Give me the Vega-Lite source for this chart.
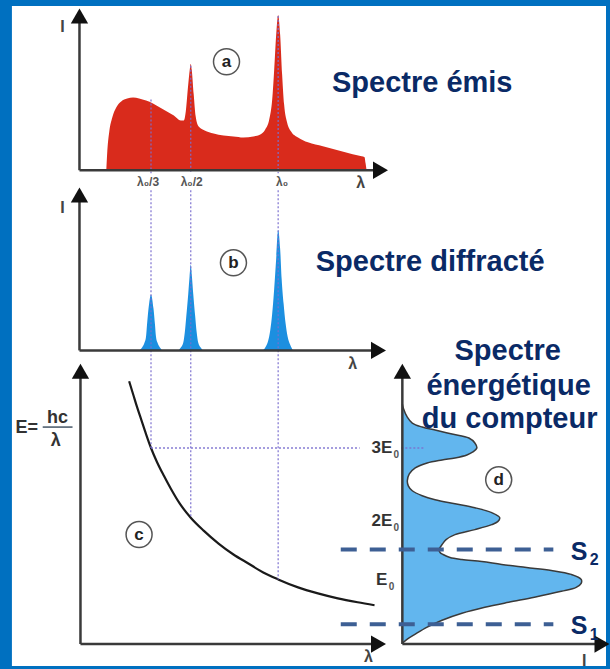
{
  "$schema": "https://vega.github.io/schema/vega-lite/v6.json",
  "width": 610,
  "height": 669,
  "autosize": {"type": "fit", "contains": "padding"},
  "padding": 0,
  "background": "#0070c0",
  "config": {"view": {"stroke": null}, "axis": {"disable": true}, "legend": {"disable": true}},
  "datasets": {
    "bg": [{"x": 12, "x2": 610, "y": 6, "y2": 669}],
    "red": [
      {"x":107,"y":171},{"x":108,"y":152},{"x":110,"y":132},{"x":113,"y":118},{"x":117,"y":108},{"x":122,"y":102},{"x":128,"y":99},{"x":134,"y":98},{"x":140,"y":99},{"x":147,"y":101},{"x":154,"y":104},{"x":161,"y":108},{"x":168,"y":112},{"x":175,"y":116},{"x":182,"y":121},{"x":185,"y":121},{"x":187,"y":112},{"x":189,"y":90},{"x":191,"y":70},{"x":192,"y":64},{"x":193,"y":70},{"x":195,"y":95},{"x":197,"y":117},{"x":200,"y":127},{"x":206,"y":131},{"x":215,"y":134},{"x":225,"y":136},{"x":235,"y":137},{"x":245,"y":138},{"x":255,"y":137},{"x":262,"y":135},{"x":267,"y":130},{"x":271,"y":120},{"x":274,"y":100},{"x":276,"y":70},{"x":278,"y":35},{"x":280,"y":15},{"x":282,"y":35},{"x":284,"y":75},{"x":286,"y":105},{"x":289,"y":123},{"x":293,"y":132},{"x":300,"y":138},{"x":310,"y":143},{"x":325,"y":147},{"x":340,"y":151},{"x":355,"y":155},{"x":364,"y":157},{"x":367,"y":158},{"x":368,"y":164},{"x":369,"y":171}
    ],
    "peaks": [
      {"x":140,"y":352},{"x":143,"y":349},{"x":145.5,"y":344},{"x":147,"y":338},{"x":148,"y":326},{"x":149.5,"y":310},{"x":152,"y":296},{"x":154.5,"y":310},{"x":156,"y":326},{"x":157,"y":338},{"x":158.5,"y":344},{"x":161,"y":349},{"x":164,"y":352},
      {"x":179,"y":352},{"x":182,"y":349},{"x":184.5,"y":344},{"x":186,"y":334},{"x":187.5,"y":318},{"x":189.5,"y":295},{"x":190.8,"y":278},{"x":192,"y":266},{"x":193.2,"y":278},{"x":194.5,"y":295},{"x":196.5,"y":318},{"x":198,"y":334},{"x":199.5,"y":344},{"x":202,"y":349},{"x":205,"y":352},
      {"x":264,"y":352},{"x":267,"y":349},{"x":270,"y":342},{"x":272,"y":332},{"x":274,"y":315},{"x":276,"y":290},{"x":278,"y":260},{"x":280,"y":231},{"x":282,"y":250},{"x":283.5,"y":280},{"x":285.5,"y":305},{"x":287.5,"y":325},{"x":289.5,"y":338},{"x":292,"y":346},{"x":295,"y":352}
    ],
    "counter": [
      {"x":405,"y":406},{"x":406,"y":410},{"x":410,"y":419},{"x":415,"y":425},{"x":425,"y":429},{"x":438,"y":432},{"x":455,"y":436},{"x":472,"y":440},{"x":478,"y":445},{"x":480,"y":450},{"x":476,"y":454},{"x":470,"y":457},{"x":458,"y":460},{"x":445,"y":462},{"x":430,"y":465},{"x":418,"y":470},{"x":412,"y":476},{"x":410,"y":483},{"x":411,"y":488},{"x":415,"y":493},{"x":425,"y":498},{"x":438,"y":502},{"x":458,"y":506},{"x":478,"y":510},{"x":495,"y":515},{"x":503,"y":520},{"x":501,"y":524},{"x":495,"y":527},{"x":478,"y":532},{"x":458,"y":537},{"x":449,"y":542},{"x":445,"y":547},{"x":442,"y":552},{"x":443,"y":555},{"x":446,"y":557},{"x":453,"y":560},{"x":465,"y":562},{"x":485,"y":564},{"x":505,"y":567},{"x":530,"y":570},{"x":555,"y":573},{"x":575,"y":577},{"x":585,"y":582},{"x":585,"y":586},{"x":580,"y":590},{"x":565,"y":594},{"x":538,"y":600},{"x":512,"y":605},{"x":488,"y":610},{"x":465,"y":616},{"x":445,"y":623},{"x":430,"y":630},{"x":418,"y":637},{"x":410,"y":642},{"x":405,"y":646}
    ],
    "curve": [
      {"x":130,"y":383},{"x":134,"y":396},{"x":138,"y":409},{"x":142,"y":421},{"x":147,"y":436},{"x":152,"y":450},{"x":158,"y":464},{"x":165,"y":478},{"x":172,"y":491},{"x":181,"y":506},{"x":192,"y":520},{"x":205,"y":533},{"x":220,"y":546},{"x":235,"y":557},{"x":250,"y":566},{"x":265,"y":575},{"x":280,"y":582},{"x":300,"y":590},{"x":320,"y":596},{"x":340,"y":601},{"x":360,"y":605},{"x":377,"y":608}
    ],
    "guides": [
      {"x":152,"x2":152,"y":100,"y2":174},{"x":152,"x2":152,"y":191,"y2":450},
      {"x":192,"x2":192,"y":66,"y2":174},{"x":192,"x2":192,"y":191,"y2":520},
      {"x":280,"x2":280,"y":16,"y2":174},{"x":280,"x2":280,"y":191,"y2":582},
      {"x":152,"x2":362,"y":450,"y2":450},{"x":404,"x2":428,"y":450,"y2":450}
    ],
    "axes": [
      {"x":80,"y":22,"x2":80,"y2":171},{"x":80,"y":171,"x2":377,"y2":171},
      {"x":80,"y":202,"x2":80,"y2":352},{"x":80,"y":352,"x2":375,"y2":352},
      {"x":81,"y":378,"x2":81,"y2":647},{"x":81,"y":647,"x2":375,"y2":647},
      {"x":405,"y":378,"x2":405,"y2":647},{"x":405,"y":647,"x2":603,"y2":647}
    ],
    "arrowsUp": [{"x":80,"y":16},{"x":80,"y":196},{"x":81,"y":373},{"x":405,"y":373}],
    "arrowsRight": [{"x":383,"y":171},{"x":381,"y":352},{"x":381,"y":647},{"x":606,"y":647}],
    "thresholds": [{"x":343,"x2":557,"y":552},{"x":343,"x2":557,"y":627}],
    "circles": [{"x":228,"y":62,"t":"a"},{"x":235,"y":264,"t":"b"},{"x":140,"y":537,"t":"c"},{"x":502,"y":482,"t":"d"}],
    "titles": [
      {"x":425,"y":92,"t":"Spectre émis"},
      {"x":433,"y":272,"t":"Spectre diffracté"},
      {"x":511,"y":362,"t":"Spectre"},
      {"x":512,"y":397,"t":"énergétique"},
      {"x":513,"y":430,"t":"du compteur"}
    ],
    "ticks": [{"x":149,"y":183,"t":"λ₀/3"},{"x":193,"y":183,"t":"λ₀/2"},{"x":284,"y":183,"t":"λ₀"}],
    "axisNames": [
      {"x":63,"y":27,"t":"I"},{"x":363,"y":184,"t":"λ"},
      {"x":63,"y":209,"t":"I"},{"x":355,"y":366,"t":"λ"},
      {"x":371,"y":660,"t":"λ"},{"x":588,"y":664,"t":"I"}
    ],
    "energies": [{"x":395,"y":450,"t":"3E"},{"x":395,"y":523,"t":"2E"},{"x":390,"y":583,"t":"E"}],
    "energySubs": [{"x":399,"y":457,"t":"0"},{"x":399,"y":530,"t":"0"},{"x":394,"y":590,"t":"0"}],
    "sLabels": [{"x":583,"y":554,"t":"S"},{"x":583,"y":629,"t":"S"}],
    "sSubs": [{"x":598,"y":563,"t":"2"},{"x":598,"y":638,"t":"1"}],
    "formula": [{"x":27,"y":430,"t":"E="},{"x":58,"y":420,"t":"hc"},{"x":56,"y":443,"t":"λ"}],
    "fracLine": [{"x":43,"x2":73,"y":429}]
  },
  "layer": [
    {
      "data": {"name": "bg"},
      "mark": {"type": "rect", "color": "#ffffff"},
      "encoding": {
        "x": {"field": "x", "type": "quantitative", "scale": {"domain": [0, 610], "nice": false, "zero": false}},
        "x2": {"field": "x2"},
        "y": {"field": "y", "type": "quantitative", "scale": {"domain": [0, 669], "nice": false, "zero": false, "reverse": true}},
        "y2": {"field": "y2"}
      }
    },
    {
      "data": {"name": "red"},
      "mark": {"type": "area", "color": "#d92b1c", "interpolate": "monotone"},
      "encoding": {
        "x": {"field": "x", "type": "quantitative"},
        "y": {"field": "y", "type": "quantitative"},
        "y2": {"datum": 171}
      }
    },
    {
      "data": {"name": "peaks"},
      "mark": {"type": "area", "color": "#1c8fe0", "interpolate": "monotone"},
      "encoding": {
        "x": {"field": "x", "type": "quantitative"},
        "y": {"field": "y", "type": "quantitative"},
        "y2": {"datum": 352}
      }
    },
    {
      "data": {"name": "counter"},
      "mark": {"type": "line", "fill": "#62b6ee", "stroke": "#3a3a3a", "strokeWidth": 1.5, "interpolate": "catmull-rom"},
      "encoding": {
        "x": {"field": "x", "type": "quantitative"},
        "y": {"field": "y", "type": "quantitative"},
        "order": {"field": "y", "type": "quantitative"}
      }
    },
    {
      "data": {"name": "curve"},
      "mark": {"type": "line", "color": "#1a1a1a", "strokeWidth": 2.2, "interpolate": "monotone"},
      "encoding": {
        "x": {"field": "x", "type": "quantitative"},
        "y": {"field": "y", "type": "quantitative"}
      }
    },
    {
      "data": {"name": "guides"},
      "mark": {"type": "rule", "color": "#7b6fcf", "strokeWidth": 1.3, "strokeDash": [2, 2], "opacity": 0.9},
      "encoding": {
        "x": {"field": "x", "type": "quantitative"},
        "x2": {"field": "x2"},
        "y": {"field": "y", "type": "quantitative"},
        "y2": {"field": "y2"}
      }
    },
    {
      "data": {"name": "axes"},
      "mark": {"type": "rule", "color": "#3a3a3a", "strokeWidth": 2.5},
      "encoding": {
        "x": {"field": "x", "type": "quantitative"},
        "x2": {"field": "x2"},
        "y": {"field": "y", "type": "quantitative"},
        "y2": {"field": "y2"}
      }
    },
    {
      "data": {"name": "arrowsUp"},
      "mark": {"type": "point", "shape": "triangle-up", "filled": true, "color": "#111111", "size": 300, "opacity": 1},
      "encoding": {
        "x": {"field": "x", "type": "quantitative"},
        "y": {"field": "y", "type": "quantitative"}
      }
    },
    {
      "data": {"name": "arrowsRight"},
      "mark": {"type": "point", "shape": "triangle-right", "filled": true, "color": "#111111", "size": 300, "opacity": 1},
      "encoding": {
        "x": {"field": "x", "type": "quantitative"},
        "y": {"field": "y", "type": "quantitative"}
      }
    },
    {
      "data": {"name": "thresholds"},
      "mark": {"type": "rule", "color": "#3d5f94", "strokeWidth": 4, "strokeDash": [16, 13]},
      "encoding": {
        "x": {"field": "x", "type": "quantitative"},
        "x2": {"field": "x2"},
        "y": {"field": "y", "type": "quantitative"}
      }
    },
    {
      "data": {"name": "circles"},
      "mark": {"type": "point", "shape": "circle", "filled": true, "fill": "#ffffff", "stroke": "#555555", "strokeWidth": 1.5, "size": 676, "opacity": 1},
      "encoding": {
        "x": {"field": "x", "type": "quantitative"},
        "y": {"field": "y", "type": "quantitative"}
      }
    },
    {
      "data": {"name": "circles"},
      "mark": {"type": "text", "font": "Liberation Sans", "fontWeight": "bold", "fontSize": 17, "color": "#222222", "align": "center", "baseline": "middle"},
      "encoding": {
        "x": {"field": "x", "type": "quantitative"},
        "y": {"field": "y", "type": "quantitative"},
        "text": {"field": "t"}
      }
    },
    {
      "data": {"name": "titles"},
      "mark": {"type": "text", "font": "Liberation Sans", "fontWeight": "bold", "fontSize": 29, "color": "#0a2a66", "align": "center", "baseline": "alphabetic"},
      "encoding": {
        "x": {"field": "x", "type": "quantitative"},
        "y": {"field": "y", "type": "quantitative"},
        "text": {"field": "t"}
      }
    },
    {
      "data": {"name": "ticks"},
      "mark": {"type": "text", "font": "Liberation Sans", "fontWeight": "bold", "fontSize": 12, "color": "#555555", "align": "center", "baseline": "middle"},
      "encoding": {
        "x": {"field": "x", "type": "quantitative"},
        "y": {"field": "y", "type": "quantitative"},
        "text": {"field": "t"}
      }
    },
    {
      "data": {"name": "axisNames"},
      "mark": {"type": "text", "font": "Liberation Sans", "fontWeight": "bold", "fontSize": 16, "color": "#444444", "align": "center", "baseline": "middle"},
      "encoding": {
        "x": {"field": "x", "type": "quantitative"},
        "y": {"field": "y", "type": "quantitative"},
        "text": {"field": "t"}
      }
    },
    {
      "data": {"name": "energies"},
      "mark": {"type": "text", "font": "Liberation Sans", "fontWeight": "bold", "fontSize": 17, "color": "#333333", "align": "right", "baseline": "middle"},
      "encoding": {
        "x": {"field": "x", "type": "quantitative"},
        "y": {"field": "y", "type": "quantitative"},
        "text": {"field": "t"}
      }
    },
    {
      "data": {"name": "energySubs"},
      "mark": {"type": "text", "font": "Liberation Sans", "fontWeight": "bold", "fontSize": 10, "color": "#555555", "align": "center", "baseline": "middle"},
      "encoding": {
        "x": {"field": "x", "type": "quantitative"},
        "y": {"field": "y", "type": "quantitative"},
        "text": {"field": "t"}
      }
    },
    {
      "data": {"name": "sLabels"},
      "mark": {"type": "text", "font": "Liberation Sans", "fontWeight": "bold", "fontSize": 25, "color": "#0a2a66", "align": "center", "baseline": "middle"},
      "encoding": {
        "x": {"field": "x", "type": "quantitative"},
        "y": {"field": "y", "type": "quantitative"},
        "text": {"field": "t"}
      }
    },
    {
      "data": {"name": "sSubs"},
      "mark": {"type": "text", "font": "Liberation Sans", "fontWeight": "bold", "fontSize": 16, "color": "#0a2a66", "align": "center", "baseline": "middle"},
      "encoding": {
        "x": {"field": "x", "type": "quantitative"},
        "y": {"field": "y", "type": "quantitative"},
        "text": {"field": "t"}
      }
    },
    {
      "data": {"name": "formula"},
      "mark": {"type": "text", "font": "Liberation Sans", "fontWeight": "bold", "fontSize": 18, "color": "#333333", "align": "center", "baseline": "middle"},
      "encoding": {
        "x": {"field": "x", "type": "quantitative"},
        "y": {"field": "y", "type": "quantitative"},
        "text": {"field": "t"}
      }
    },
    {
      "data": {"name": "fracLine"},
      "mark": {"type": "rule", "color": "#445566", "strokeWidth": 1.5},
      "encoding": {
        "x": {"field": "x", "type": "quantitative"},
        "x2": {"field": "x2"},
        "y": {"field": "y", "type": "quantitative"}
      }
    }
  ]
}
